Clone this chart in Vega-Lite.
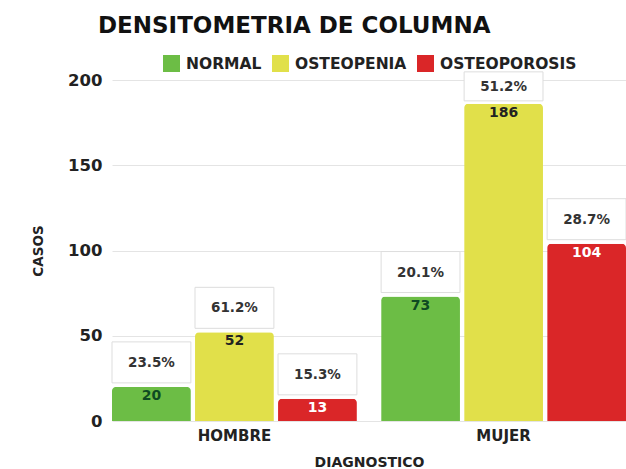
{
  "$schema": "https://vega.github.io/schema/vega-lite/v6.json",
  "width": 514,
  "height": 341,
  "autosize": "none",
  "padding": {"left": 112, "top": 80, "right": 0, "bottom": 48},
  "background": "white",
  "config": {"font": "DejaVu Sans", "view": {"stroke": null}},
  "title": {
    "text": "DENSITOMETRIA DE  COLUMNA",
    "anchor": "start",
    "frame": "group",
    "dx": -14,
    "offset": -1,
    "baseline": "alphabetic",
    "fontSize": 23,
    "font": "DejaVu Sans",
    "fontWeight": "bold",
    "color": "#111111"
  },
  "data": {
    "values": [
      {"sexo": "HOMBRE", "dx": "NORMAL", "casos": 20, "pct": "23.5%"},
      {"sexo": "HOMBRE", "dx": "OSTEOPENIA", "casos": 52, "pct": "61.2%"},
      {"sexo": "HOMBRE", "dx": "OSTEOPOROSIS", "casos": 13, "pct": "15.3%"},
      {"sexo": "MUJER", "dx": "NORMAL", "casos": 73, "pct": "20.1%"},
      {"sexo": "MUJER", "dx": "OSTEOPENIA", "casos": 186, "pct": "51.2%"},
      {"sexo": "MUJER", "dx": "OSTEOPOROSIS", "casos": 104, "pct": "28.7%"}
    ]
  },
  "encoding": {
    "x": {
      "field": "sexo",
      "type": "nominal",
      "sort": ["HOMBRE", "MUJER"],
      "scale": {"paddingInner": 0.09, "paddingOuter": 0},
      "axis": {
        "title": "DIAGNOSTICO",
        "labelAngle": 0,
        "labelFontSize": 15,
        "labelFontWeight": "bold",
        "labelColor": "#222222",
        "labelPadding": 7,
        "domain": false,
        "ticks": false,
        "titleFontSize": 14,
        "titleFontWeight": "bold",
        "titleColor": "#222222",
        "titlePadding": 12
      }
    },
    "xOffset": {
      "field": "dx",
      "type": "nominal",
      "sort": ["NORMAL", "OSTEOPENIA", "OSTEOPOROSIS"],
      "scale": {"paddingInner": 0.05, "paddingOuter": 0}
    },
    "y": {
      "field": "casos",
      "type": "quantitative",
      "scale": {"domain": [0, 200], "nice": false},
      "axis": {
        "values": [0, 50, 100, 150, 200],
        "title": "CASOS",
        "labelFontSize": 16.5,
        "labelFontWeight": "bold",
        "labelColor": "#222222",
        "labelPadding": 10,
        "domain": false,
        "ticks": false,
        "gridColor": "#e4e4e4",
        "titleFontSize": 13.5,
        "titleFontWeight": "bold",
        "titleColor": "#222222",
        "titlePadding": 22
      }
    }
  },
  "layer": [
    {
      "mark": {"type": "bar", "cornerRadiusTopLeft": 4, "cornerRadiusTopRight": 4},
      "encoding": {
        "color": {
          "field": "dx",
          "type": "nominal",
          "scale": {
            "domain": ["NORMAL", "OSTEOPENIA", "OSTEOPOROSIS"],
            "range": ["#6cbd45", "#e1e04a", "#da2628"]
          },
          "legend": {
            "orient": "none",
            "legendX": 51,
            "legendY": -25,
            "direction": "horizontal",
            "title": null,
            "padding": 0,
            "symbolType": "square",
            "symbolSize": 289,
            "symbolStrokeWidth": 0,
            "labelFontSize": 15.5,
            "labelFontWeight": "bold",
            "labelColor": "#222222",
            "labelOffset": 6,
            "columnPadding": 10
          }
        }
      }
    },
    {
      "transform": [{"filter": "datum.casos < 150"}],
      "mark": {
        "type": "bar",
        "fill": "white",
        "stroke": "#dddddd",
        "strokeWidth": 1,
        "yOffset": -45,
        "y2Offset": -4
      },
      "encoding": {"y2": {"field": "casos"}}
    },
    {
      "transform": [{"filter": "datum.casos >= 150"}],
      "mark": {
        "type": "bar",
        "fill": "white",
        "stroke": "#dddddd",
        "strokeWidth": 1,
        "yOffset": -32,
        "y2Offset": -3
      },
      "encoding": {"y2": {"field": "casos"}}
    },
    {
      "transform": [{"filter": "datum.casos < 150"}],
      "mark": {
        "type": "text",
        "dy": -24,
        "fontSize": 13.5,
        "fontWeight": "bold",
        "color": "#333333"
      },
      "encoding": {"text": {"field": "pct"}}
    },
    {
      "transform": [{"filter": "datum.casos >= 150"}],
      "mark": {
        "type": "text",
        "dy": -17,
        "fontSize": 13.5,
        "fontWeight": "bold",
        "color": "#333333"
      },
      "encoding": {"text": {"field": "pct"}}
    },
    {
      "mark": {
        "type": "text",
        "baseline": "top",
        "dy": 2,
        "fontSize": 14,
        "fontWeight": "bold"
      },
      "encoding": {
        "text": {"field": "casos", "type": "quantitative"},
        "color": {
          "condition": [
            {"test": "datum.dx === 'OSTEOPOROSIS'", "value": "#ffffff"},
            {"test": "datum.dx === 'NORMAL'", "value": "#0e4a22"}
          ],
          "value": "#222222"
        }
      }
    }
  ]
}
